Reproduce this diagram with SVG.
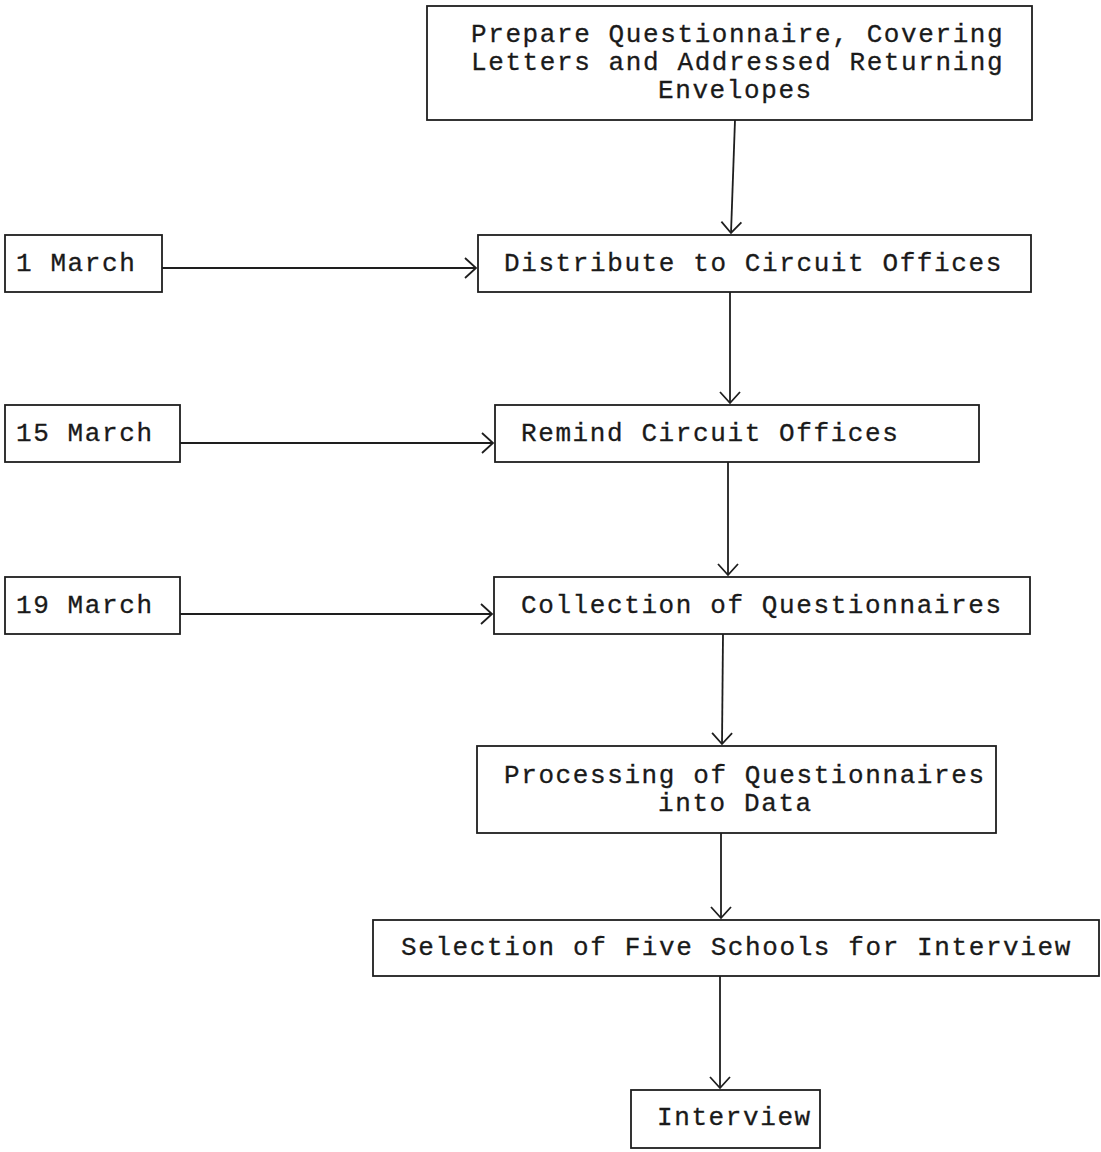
<svg xmlns="http://www.w3.org/2000/svg" width="1101" height="1152" viewBox="0 0 1101 1152">
  <style>
    .box { fill: none; stroke: #1e1e1e; stroke-width: 1.8; }
    .lbl { font-family: "Liberation Mono", "Courier New", monospace; font-size: 26px; letter-spacing: 1.6px; fill: #1a1a1a; stroke: #1a1a1a; stroke-width: 0.3; }
    .conn { fill: none; stroke: #1e1e1e; stroke-width: 1.8; }
  </style>
  <defs>
    <marker id="arrow" markerWidth="14" markerHeight="24" refX="12" refY="12" orient="auto" markerUnits="userSpaceOnUse">
      <path d="M1,2 L12,12 L1,22" fill="none" stroke="#1e1e1e" stroke-width="1.8"/>
    </marker>
  </defs>
  <rect width="1101" height="1152" fill="#ffffff"/>

  <g id="prepare">
    <rect class="box" x="427" y="6" width="605" height="114"/>
    <text class="lbl" x="471" y="42">Prepare Questionnaire, Covering</text>
    <text class="lbl" x="471" y="70">Letters and Addressed Returning</text>
    <text class="lbl" x="658" y="98">Envelopes</text>
  </g>

  <g id="date-1-march">
    <rect class="box" x="5" y="235" width="157" height="57"/>
    <text class="lbl" x="16" y="271">1 March</text>
  </g>

  <g id="distribute">
    <rect class="box" x="478" y="235" width="553" height="57"/>
    <text class="lbl" x="504" y="271">Distribute to Circuit Offices</text>
  </g>

  <g id="date-15-march">
    <rect class="box" x="5" y="405" width="175" height="57"/>
    <text class="lbl" x="16" y="441">15 March</text>
  </g>

  <g id="remind">
    <rect class="box" x="495" y="405" width="484" height="57"/>
    <text class="lbl" x="521" y="441">Remind Circuit Offices</text>
  </g>

  <g id="date-19-march">
    <rect class="box" x="5" y="577" width="175" height="57"/>
    <text class="lbl" x="16" y="613">19 March</text>
  </g>

  <g id="collection">
    <rect class="box" x="494" y="577" width="536" height="57"/>
    <text class="lbl" x="521" y="613">Collection of Questionnaires</text>
  </g>

  <g id="processing">
    <rect class="box" x="477" y="746" width="519" height="87"/>
    <text class="lbl" x="504" y="783">Processing of Questionnaires</text>
    <text class="lbl" x="658" y="811">into Data</text>
  </g>

  <g id="selection">
    <rect class="box" x="373" y="920" width="726" height="56"/>
    <text class="lbl" x="401" y="955">Selection of Five Schools for Interview</text>
  </g>

  <g id="interview">
    <rect class="box" x="631" y="1090" width="189" height="58"/>
    <text class="lbl" x="657" y="1125">Interview</text>
  </g>

  <g id="connectors">
    <path class="conn" d="M735,120 L731,233" marker-end="url(#arrow)"/>
    <path class="conn" d="M162,268 L476,268" marker-end="url(#arrow)"/>
    <path class="conn" d="M730,292 L730,403" marker-end="url(#arrow)"/>
    <path class="conn" d="M180,443 L493,443" marker-end="url(#arrow)"/>
    <path class="conn" d="M728,462 L728,575" marker-end="url(#arrow)"/>
    <path class="conn" d="M180,614 L492,614" marker-end="url(#arrow)"/>
    <path class="conn" d="M723,634 L722,744" marker-end="url(#arrow)"/>
    <path class="conn" d="M721,833 L721,918" marker-end="url(#arrow)"/>
    <path class="conn" d="M720,976 L720,1088" marker-end="url(#arrow)"/>
  </g>
</svg>
